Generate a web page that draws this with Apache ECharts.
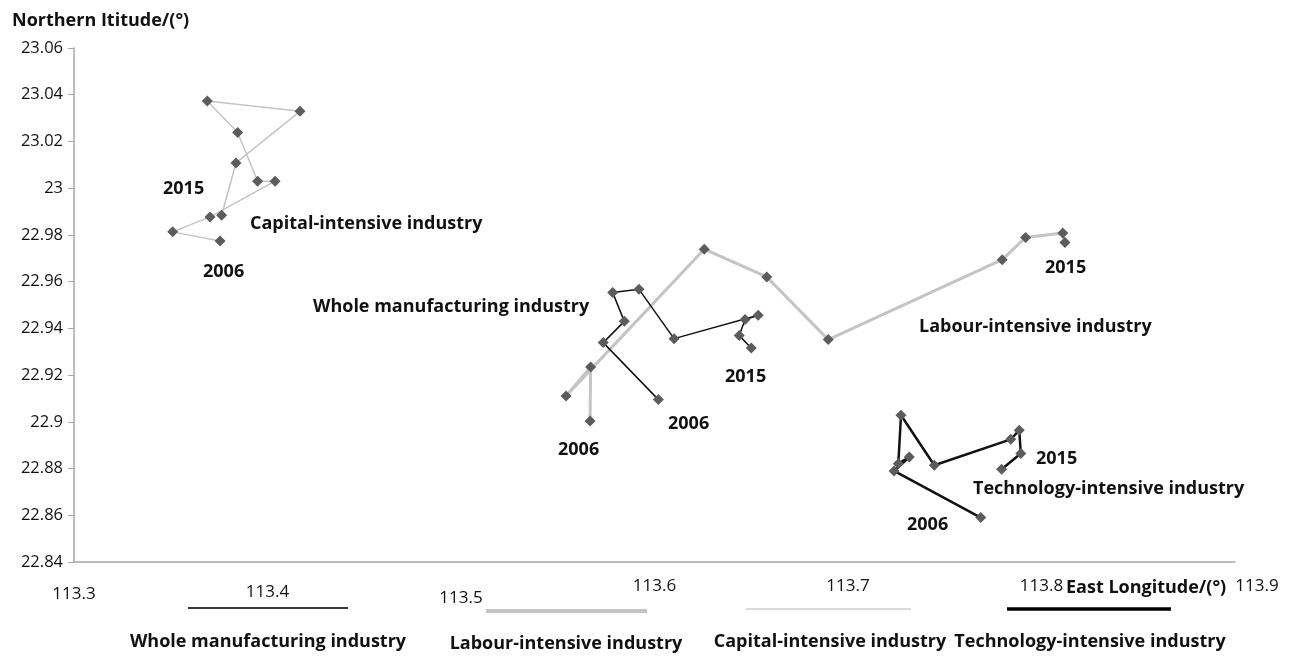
<!DOCTYPE html>
<html>
<head>
<meta charset="utf-8">
<script src="https://cdn.jsdelivr.net/npm/echarts@6/dist/echarts.min.js"></script>
<style>
html,body{margin:0;padding:0;background:#fff;}
#main{width:1293px;height:656px;}
</style>
</head>
<body>
<div id="main"></div>
<script>
// Data: [East Longitude, Northern Latitude], ordered 2006 -> 2015
var wholeManufacturing = [
  [113.6020, 22.9095], [113.5735, 22.9339], [113.5844, 22.9430], [113.5784, 22.9553],
  [113.5920, 22.9567], [113.6101, 22.9356], [113.6536, 22.9456], [113.6468, 22.9438],
  [113.6438, 22.9369], [113.6500, 22.9316]
];
var labourIntensive = [
  [113.5667, 22.9004], [113.5670, 22.9235], [113.5543, 22.9111], [113.6257, 22.9739],
  [113.6580, 22.9620], [113.6898, 22.9352], [113.7797, 22.9694], [113.7918, 22.9789],
  [113.8110, 22.9808], [113.8121, 22.9767]
];
var capitalIntensive = [
  [113.3755, 22.9774], [113.3510, 22.9813], [113.3703, 22.9877], [113.4039, 23.0030],
  [113.3949, 23.0030], [113.3846, 23.0238], [113.3689, 23.0373], [113.4168, 23.0329],
  [113.3837, 23.0108], [113.3763, 22.9884]
];
var technologyIntensive = [
  [113.7686, 22.8590], [113.7238, 22.8790], [113.7317, 22.8849], [113.7260, 22.8821],
  [113.7274, 22.9028], [113.7446, 22.8814], [113.7841, 22.8925], [113.7885, 22.8964],
  [113.7893, 22.8864], [113.7794, 22.8797]
];
var seriesNames = ['Whole manufacturing industry', 'Labour-intensive industry', 'Capital-intensive industry', 'Technology-intensive industry'];
var xTicks = [113.3, 113.4, 113.5, 113.6, 113.7, 113.8, 113.9];
var yTicks = [22.84, 22.86, 22.88, 22.9, 22.92, 22.94, 22.96, 22.98, 23, 23.02, 23.04, 23.06];

var FONT = '"Open Sans", "Noto Sans", sans-serif';
var chart = echarts.init(document.getElementById('main'));

function mk(name, data, color, width) {
  return {
    name: name, type: 'line', data: data,
    symbol: 'diamond', symbolSize: 11,
    itemStyle: { color: '#5c5c5c' },
    lineStyle: { color: color, width: width },
    z: width > 2 ? 2 : 3,
    animation: false
  };
}

// bold text at x, vertical centre y
var bold = function (txt, x, y, align) {
  return { type: 'text', x: x, y: y,
    style: { text: txt, font: 'bold 18px ' + FONT, fill: '#111', align: align || 'left', verticalAlign: 'middle' } };
};
var line = function (x1, x2, y, color, w) {
  return { type: 'line', shape: { x1: x1, y1: y, x2: x2, y2: y }, style: { stroke: color, lineWidth: w } };
};

// label nudges (style only) for the irregular x tick labels of the original
var xLabelStyle = {
  '113.3': 'a', '113.4': 'b', '113.5': 'c', '113.9': 'e'
};

chart.setOption({
  backgroundColor: '#fff',
  animation: false,
  grid: { left: 74, right: 58, top: 48, bottom: 94, containLabel: false },
  xAxis: {
    type: 'value', min: xTicks[0], max: xTicks[xTicks.length - 1], interval: 0.1,
    axisLine: { show: true, lineStyle: { color: '#a6a6a6', width: 1.5 } },
    axisTick: { show: false },
    splitLine: { show: false },
    axisLabel: { color: '#111', fontSize: 17, fontFamily: FONT, margin: 16,
      formatter: function (v) {
        var s = String(+v.toFixed(2));
        return xLabelStyle[s] ? '{' + xLabelStyle[s] + '|' + s + '}' : s;
      },
      rich: {
        a: { fontSize: 17, fontFamily: FONT, color: '#111', padding: [8, 0, 0, 0] },
        b: { fontSize: 17, fontFamily: FONT, color: '#111', padding: [6, 0, 0, 0] },
        c: { fontSize: 17, fontFamily: FONT, color: '#111', padding: [12, 0, 0, 0] },
        e: { fontSize: 17, fontFamily: FONT, color: '#111', padding: [0, 0, 0, 44] }
      }
    }
  },
  yAxis: {
    type: 'value', min: yTicks[0], max: yTicks[yTicks.length - 1], interval: 0.02,
    axisLine: { show: true, lineStyle: { color: '#a6a6a6', width: 1.5 } },
    axisTick: { show: true, inside: false, length: 6, lineStyle: { color: '#a6a6a6' } },
    splitLine: { show: false },
    axisLabel: { color: '#111', fontSize: 16.5, fontFamily: FONT, margin: 11,
      formatter: function (v) { return String(+v.toFixed(2)); } }
  },
  series: [
    mk(seriesNames[2], capitalIntensive, '#c4c4c4', 1.5),
    mk(seriesNames[1], labourIntensive, '#c4c4c4', 3),
    mk(seriesNames[0], wholeManufacturing, '#111111', 1.5),
    mk(seriesNames[3], technologyIntensive, '#111111', 2.5)
  ],
  graphic: [
    bold('Northern Ititude/(°)', 12, 21),
    bold('East Longitude/(°)', 1066, 588),
    bold('2015', 163, 189),
    bold('Capital-intensive industry', 250, 224),
    bold('2006', 203, 272),
    bold('Whole manufacturing industry', 313, 307),
    bold('2015', 725, 377),
    bold('2006', 668, 424),
    bold('2006', 558, 450),
    bold('Labour-intensive industry', 919, 327),
    bold('2015', 1045, 268),
    bold('2015', 1036, 459),
    bold('Technology-intensive industry', 973, 489),
    bold('2006', 907, 525),
    line(188, 348, 608, '#3a3a3a', 2),
    line(486, 647, 611, '#c4c4c4', 4),
    line(746, 911, 609, '#cfcfcf', 1.5),
    line(1007, 1171, 609, '#000000', 3.5),
    bold(seriesNames[0], 268, 642, 'center'),
    bold(seriesNames[1], 566, 644, 'center'),
    bold(seriesNames[2], 830, 642, 'center'),
    bold(seriesNames[3], 1090, 642, 'center')
  ]
});
</script>
</body>
</html>
